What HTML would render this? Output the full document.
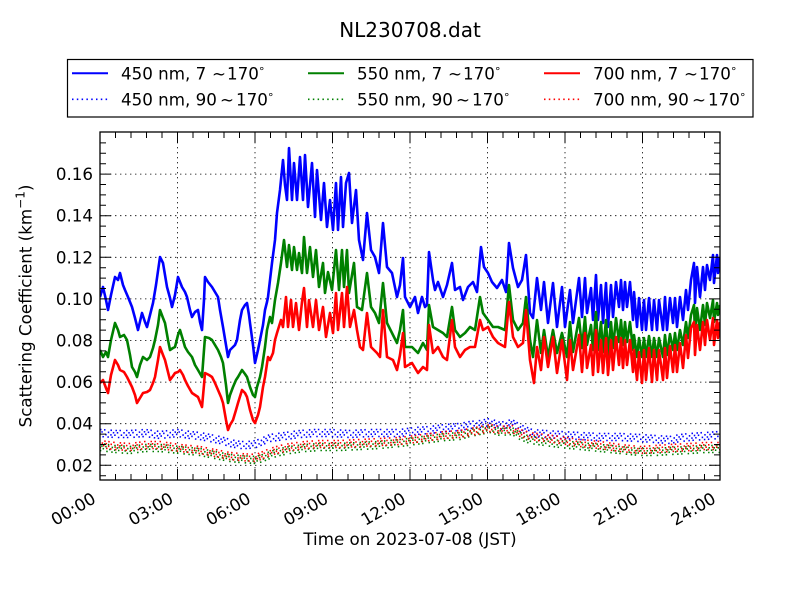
<!DOCTYPE html>
<html>
<head>
<meta charset="utf-8">
<style>
html,body{margin:0;padding:0;background:#fff;}
svg{display:block;}
text{font-family:"DejaVu Sans","Liberation Sans",sans-serif;fill:#000;}
</style>
</head>
<body>
<svg width="800" height="600" viewBox="0 0 800 600" xmlns="http://www.w3.org/2000/svg">
<rect x="0" y="0" width="800" height="600" fill="#fff"/>
<defs>
<clipPath id="pc"><rect x="100" y="132" width="620" height="348"/></clipPath>
<polyline id="bd" fill="none" points="100,433 115,434 130,434 145,433 160,435 178,433 190,435 200,436 210,438 220,440 230,443 240,445 248,445 256,444 263,441 270,438 285,436 300,434 315,433 330,433 350,434 370,433 400,433 415,431 430,430 445,428 460,427 470,425 480,424 490,422 500,426 512,423 520,428 532,433 545,434 560,435 580,436 600,437 620,437 640,438 655,439 670,440 680,438 690,437 705,436 720,435"/>
<polyline id="gdd" fill="none" points="100,447 115,449 130,450 145,448 160,448 180,450 200,452 210,454 220,456 230,458 240,459 256,460 263,458 270,455 280,452 290,450 305,448 320,447 340,447 360,446 380,445 400,443 415,441 430,439 445,437 460,436 470,433 480,431 490,429 500,432 512,431 520,436 530,440 545,442 560,444 580,446 600,448 620,450 640,452 655,452 670,451 690,450 705,449 720,449"/>
<polyline id="rdd" fill="none" points="100,444 115,446 130,447 145,445 160,445 180,448 200,450 210,452 220,454 230,456 240,457 256,458 263,455 270,452 280,449 290,447 305,445 320,444 340,444 360,443 380,442 400,441 415,439 430,437 445,435 460,434 470,432 480,430 490,428 500,430 512,429 520,433 530,436 545,438 560,440 580,443 600,445 620,448 640,450 655,449 670,448 690,447 705,446 720,446"/>
</defs>

<!-- grid -->
<g stroke="#000" stroke-width="0.8" stroke-dasharray="1.4 3.6" fill="none">
<path d="M177.5 132V480M255 132V480M332.5 132V480M410 132V480M487.5 132V480M565 132V480M642.5 132V480"/>
<path d="M100 465.3H720M100 423.7H720M100 382.1H720M100 340.5H720M100 298.9H720M100 257.3H720M100 215.7H720M100 174.1H720"/>
</g>

<g clip-path="url(#pc)" fill="none" stroke-linejoin="round">
<!-- 450 solid -->
<polyline stroke="#0000ff" stroke-width="2.6" points="100,297 103,287 106,300 108,310 111,295 115,277 118,280 120,273 123,285 125,290 128,297 132,307 135,318 138,330 142,313 145,322 147,327 150,315 153,303 156,285 160,257 163,263 165,275 167,287 170,298 172,307 175,295 178,277 180,282 182,287 185,292 187,297 190,310 192,317 195,312 198,310 200,322 202,330 204,300 205,277 208,282 212,287 215,292 218,297 220,310 223,327 226,345 228,357 230,350 233,347 235,345 237,340 240,320 242,310 245,305 247,303 249,315 250,323 253,345 255,363 258,350 260,340 263,325 265,310 267,302 268,297 270,280 272,263 275,240 277,213 280,190 283,160 285,185 287,200 289,148 292,200 294,163 297,200 300,157 303,200 305,155 308,207 312,163 315,217 317,170 321,220 324,183 327,227 330,200 333,230 336,183 338,230 341,177 343,227 346,183 349,173 352,223 356,190 359,240 363,260 367,213 371,250 375,257 379,273 383,223 387,267 392,273 397,297 400,285 403,258 405,297 410,307 415,297 418,313 422,297 425,307 427,305 429,252 433,280 435,290 438,282 443,297 447,285 452,263 455,290 460,287 463,300 468,287 473,282 477,292 481,247 484,267 488,273 492,282 497,288 502,280 506,292 509,243 513,268 518,287 522,280 526,255 530,313 533,318 537,278 541,310 544,282 548,323 553,283 557,327 562,287 565,327 570,290 573,323 579,278 582,317 585,278 587,313 591,288 593,320 596,275 598,320 601,285 603,323 606,283 608,327 611,285 613,317 616,282 619,307 621,280 623,310 625,282 627,307 630,282 633,320 634,292 637,327 639,298 642,330 644,300 646,330 649,298 652,330 654,300 657,330 659,300 663,330 665,297 667,330 670,298 673,323 675,298 677,327 680,297 683,320 686,290 688,310 691,280 694,263 695,303 697,267 700,297 703,267 705,290 707,265 710,280 713,255 714,283 717,255 718,273 720,257"/>
<!-- 450 dotted -->
<g stroke="#0000ff" stroke-width="1.6" stroke-dasharray="1.5 2.5 1.5 5 1.5 3.5">
<use href="#bd" transform="translate(0,-3.5)" stroke-dashoffset="0"/>
<use href="#bd" transform="translate(0,-1.2)" stroke-dashoffset="2.7"/>
<use href="#bd" transform="translate(0,1.2)" stroke-dashoffset="5.3"/>
<use href="#bd" transform="translate(0,3.5)" stroke-dashoffset="8.1"/>
</g>
<!-- 550 solid -->
<polyline stroke="#008000" stroke-width="2.6" points="100,350 103,357 106,352 108,357 111,340 115,323 118,330 120,337 124,335 127,340 130,355 132,367 135,372 137,377 140,365 143,357 147,360 150,357 153,348 155,340 158,325 160,310 163,318 165,323 168,340 170,350 173,348 175,347 178,335 180,330 183,340 185,347 188,352 192,357 195,365 198,370 202,377 204,350 205,337 209,338 212,340 215,345 218,350 221,357 223,363 226,385 228,403 230,395 233,387 236,380 238,377 242,370 245,374 247,377 250,387 253,395 255,397 257,387 260,377 262,367 265,347 267,330 270,317 272,323 275,300 278,283 281,263 284,240 287,267 289,245 292,270 294,247 297,270 299,253 302,273 304,237 307,273 310,247 313,277 316,250 319,287 323,263 325,293 328,272 332,290 336,250 339,290 342,250 344,287 347,250 349,293 354,263 357,307 362,310 367,273 371,307 375,313 379,323 383,283 387,323 392,333 397,343 400,330 403,310 405,347 412,347 418,353 423,343 427,350 429,305 433,327 438,330 443,333 447,337 452,307 455,330 460,337 465,333 470,327 475,330 480,297 483,313 488,320 493,327 498,327 505,330 509,285 513,320 518,330 523,323 526,297 530,340 533,357 537,320 541,353 544,330 548,357 553,330 557,353 562,333 567,357 570,322 573,352 579,318 582,348 585,317 587,345 591,325 593,350 596,312 598,350 601,322 603,352 606,320 608,355 611,322 613,348 616,318 619,342 621,320 623,345 625,322 627,342 630,322 633,350 634,335 637,357 639,338 642,357 644,338 646,357 649,336 652,357 654,338 657,357 659,338 663,357 665,335 667,355 670,334 673,350 675,333 677,350 680,330 683,345 686,322 688,338 691,315 694,305 695,335 697,308 700,330 703,305 705,325 707,303 710,318 713,300 714,322 717,303 718,315 720,305"/>
<!-- 550 dotted -->
<g stroke="#008000" stroke-width="1.6" stroke-dasharray="1.5 3.5 1.5 2.5 1.5 5">
<use href="#gdd" transform="translate(0,-3.5)" stroke-dashoffset="1.1"/>
<use href="#gdd" transform="translate(0,-1.2)" stroke-dashoffset="3.8"/>
<use href="#gdd" transform="translate(0,1.2)" stroke-dashoffset="6.4"/>
<use href="#gdd" transform="translate(0,3.5)" stroke-dashoffset="9.2"/>
</g>
<!-- 700 solid -->
<polyline stroke="#ff0000" stroke-width="2.6" points="100,383 103,380 106,388 108,393 111,375 115,360 118,365 120,370 124,372 127,377 130,383 132,387 135,395 137,403 140,398 143,393 147,392 150,390 153,383 155,377 158,360 160,347 163,355 165,360 168,372 170,380 173,376 175,373 178,372 180,370 183,375 185,380 188,386 192,393 195,395 198,397 202,407 204,385 205,373 209,375 212,377 215,383 218,390 221,397 223,403 226,420 228,430 230,425 233,420 236,410 238,403 242,390 245,393 247,397 250,410 253,420 255,423 258,415 260,407 263,387 265,377 268,357 270,360 273,353 275,340 277,333 281,320 283,327 286,297 288,327 291,300 293,327 296,303 299,330 302,302 304,288 307,327 309,300 313,327 316,300 319,330 323,307 326,337 330,313 333,333 336,293 338,330 342,293 344,327 347,287 350,327 354,310 357,330 360,347 363,350 367,313 371,347 377,353 380,357 383,310 387,357 393,360 397,370 400,355 403,333 405,367 412,363 418,373 423,367 427,370 429,325 433,353 438,347 443,357 447,360 452,320 455,347 460,357 465,350 470,347 475,347 480,320 483,330 488,327 493,337 498,343 505,347 509,302 513,337 518,347 523,343 526,310 530,360 534,383 537,347 541,370 544,337 548,367 553,337 557,373 562,340 567,380 570,340 573,370 579,335 582,372 585,333 587,368 591,345 593,375 596,330 598,372 601,340 603,373 606,338 608,375 611,340 613,370 616,337 619,365 621,338 623,368 625,340 627,365 630,340 633,372 634,350 637,380 639,352 642,383 644,350 646,380 649,348 652,382 654,350 657,380 659,350 663,380 665,348 667,378 670,346 673,372 675,345 677,372 680,343 683,368 686,335 688,358 691,328 694,322 695,355 697,325 700,350 703,322 705,345 707,320 710,340 713,318 714,345 717,320 718,338 720,322"/>
<!-- 700 dotted -->
<g stroke="#ff0000" stroke-width="1.6" stroke-dasharray="1.5 5 1.5 2.5 1.5 3.5">
<use href="#rdd" transform="translate(0,-3.5)" stroke-dashoffset="2.2"/>
<use href="#rdd" transform="translate(0,-1.2)" stroke-dashoffset="4.9"/>
<use href="#rdd" transform="translate(0,1.2)" stroke-dashoffset="7.5"/>
<use href="#rdd" transform="translate(0,3.5)" stroke-dashoffset="0.4"/>
</g>
</g>

<!-- ticks -->
<g stroke="#000" stroke-width="1" fill="none">
<path d="M100 465.3h11M100 423.7h11M100 382.1h11M100 340.5h11M100 298.9h11M100 257.3h11M100 215.7h11M100 174.1h11"/>
<path d="M720 465.3h-11M720 423.7h-11M720 382.1h-11M720 340.5h-11M720 298.9h-11M720 257.3h-11M720 215.7h-11M720 174.1h-11"/>
<path d="M100 475.7h6M100 454.9h6M100 444.5h6M100 434.1h6M100 413.3h6M100 402.9h6M100 392.5h6M100 371.7h6M100 361.3h6M100 350.9h6M100 330.1h6M100 319.7h6M100 309.3h6M100 288.5h6M100 278.1h6M100 267.7h6M100 246.9h6M100 236.5h6M100 226.1h6M100 205.3h6M100 194.9h6M100 184.5h6M100 163.7h6M100 153.3h6M100 142.9h6"/>
<path d="M720 475.7h-6M720 454.9h-6M720 444.5h-6M720 434.1h-6M720 413.3h-6M720 402.9h-6M720 392.5h-6M720 371.7h-6M720 361.3h-6M720 350.9h-6M720 330.1h-6M720 319.7h-6M720 309.3h-6M720 288.5h-6M720 278.1h-6M720 267.7h-6M720 246.9h-6M720 236.5h-6M720 226.1h-6M720 205.3h-6M720 194.9h-6M720 184.5h-6M720 163.7h-6M720 153.3h-6M720 142.9h-6"/>
<path d="M177.5 480v-11M255 480v-11M332.5 480v-11M410 480v-11M487.5 480v-11M565 480v-11M642.5 480v-11"/>
<path d="M177.5 132v11M255 132v11M332.5 132v11M410 132v11M487.5 132v11M565 132v11M642.5 132v11"/>
<path d="M115.5 480v-6M131 480v-6M146.5 480v-6M162 480v-6M193 480v-6M208.5 480v-6M224 480v-6M239.5 480v-6M270.5 480v-6M286 480v-6M301.5 480v-6M317 480v-6M348 480v-6M363.5 480v-6M379 480v-6M394.5 480v-6M425.5 480v-6M441 480v-6M456.5 480v-6M472 480v-6M503 480v-6M518.5 480v-6M534 480v-6M549.5 480v-6M580.5 480v-6M596 480v-6M611.5 480v-6M627 480v-6M658 480v-6M673.5 480v-6M689 480v-6M704.5 480v-6"/>
<path d="M115.5 132v6M131 132v6M146.5 132v6M162 132v6M193 132v6M208.5 132v6M224 132v6M239.5 132v6M270.5 132v6M286 132v6M301.5 132v6M317 132v6M348 132v6M363.5 132v6M379 132v6M394.5 132v6M425.5 132v6M441 132v6M456.5 132v6M472 132v6M503 132v6M518.5 132v6M534 132v6M549.5 132v6M580.5 132v6M596 132v6M611.5 132v6M627 132v6M658 132v6M673.5 132v6M689 132v6M704.5 132v6"/>
</g>
<rect x="100" y="132" width="620" height="348" fill="none" stroke="#000" stroke-width="1.3"/>

<!-- y tick labels -->
<g font-size="16.7" text-anchor="end">
<text x="93" y="471.3">0.02</text>
<text x="93" y="429.7">0.04</text>
<text x="93" y="388.1">0.06</text>
<text x="93" y="346.5">0.08</text>
<text x="93" y="304.9">0.10</text>
<text x="93" y="263.3">0.12</text>
<text x="93" y="221.7">0.14</text>
<text x="93" y="180.1">0.16</text>
</g>

<!-- x tick labels -->
<g font-size="16.7" text-anchor="end">
<text transform="translate(97,502) rotate(-30)">00:00</text>
<text transform="translate(174.5,502) rotate(-30)">03:00</text>
<text transform="translate(252,502) rotate(-30)">06:00</text>
<text transform="translate(329.5,502) rotate(-30)">09:00</text>
<text transform="translate(407,502) rotate(-30)">12:00</text>
<text transform="translate(484.5,502) rotate(-30)">15:00</text>
<text transform="translate(562,502) rotate(-30)">18:00</text>
<text transform="translate(639.5,502) rotate(-30)">21:00</text>
<text transform="translate(717,502) rotate(-30)">24:00</text>
</g>

<!-- axis labels -->
<text x="410" y="545" font-size="16.7" text-anchor="middle">Time on 2023-07-08 (JST)</text>
<text transform="translate(31.5,306) rotate(-90)" font-size="16.7" text-anchor="middle">Scattering Coefficient (km<tspan font-size="12" dy="-7">−1</tspan><tspan dy="7">)</tspan></text>

<!-- title -->
<text x="410" y="37" font-size="20" text-anchor="middle">NL230708.dat</text>

<!-- legend -->
<rect x="67.5" y="59.5" width="685.5" height="57.5" fill="#fff" stroke="#000" stroke-width="1.2"/>
<g stroke-width="2" fill="none">
<line x1="72" y1="73.3" x2="108" y2="73.3" stroke="#0000ff"/>
<line x1="308" y1="73.3" x2="344" y2="73.3" stroke="#008000"/>
<line x1="544" y1="73.3" x2="580" y2="73.3" stroke="#ff0000"/>
</g>
<g stroke-width="1.6" fill="none" stroke-dasharray="1.5 3.3">
<line x1="72" y1="99.3" x2="108" y2="99.3" stroke="#0000ff"/>
<line x1="308" y1="99.3" x2="344" y2="99.3" stroke="#008000"/>
<line x1="544" y1="99.3" x2="580" y2="99.3" stroke="#ff0000"/>
</g>
<g font-size="16.7">
<text x="121" y="79.3">450 nm, 7</text><text x="212" y="79.3">∼</text><text x="227" y="79.3">170</text><text x="259" y="75" font-size="11">°</text>
<text x="121" y="105.3">450 nm, 90</text><text x="220" y="105.3">∼</text><text x="236" y="105.3">170</text><text x="268" y="101" font-size="11">°</text>
<text x="357" y="79.3">550 nm, 7</text><text x="448" y="79.3">∼</text><text x="463" y="79.3">170</text><text x="495" y="75" font-size="11">°</text>
<text x="357" y="105.3">550 nm, 90</text><text x="456" y="105.3">∼</text><text x="472" y="105.3">170</text><text x="504" y="101" font-size="11">°</text>
<text x="593" y="79.3">700 nm, 7</text><text x="684" y="79.3">∼</text><text x="699" y="79.3">170</text><text x="731" y="75" font-size="11">°</text>
<text x="593" y="105.3">700 nm, 90</text><text x="692" y="105.3">∼</text><text x="708" y="105.3">170</text><text x="740" y="101" font-size="11">°</text>
</g>
</svg>
</body>
</html>
